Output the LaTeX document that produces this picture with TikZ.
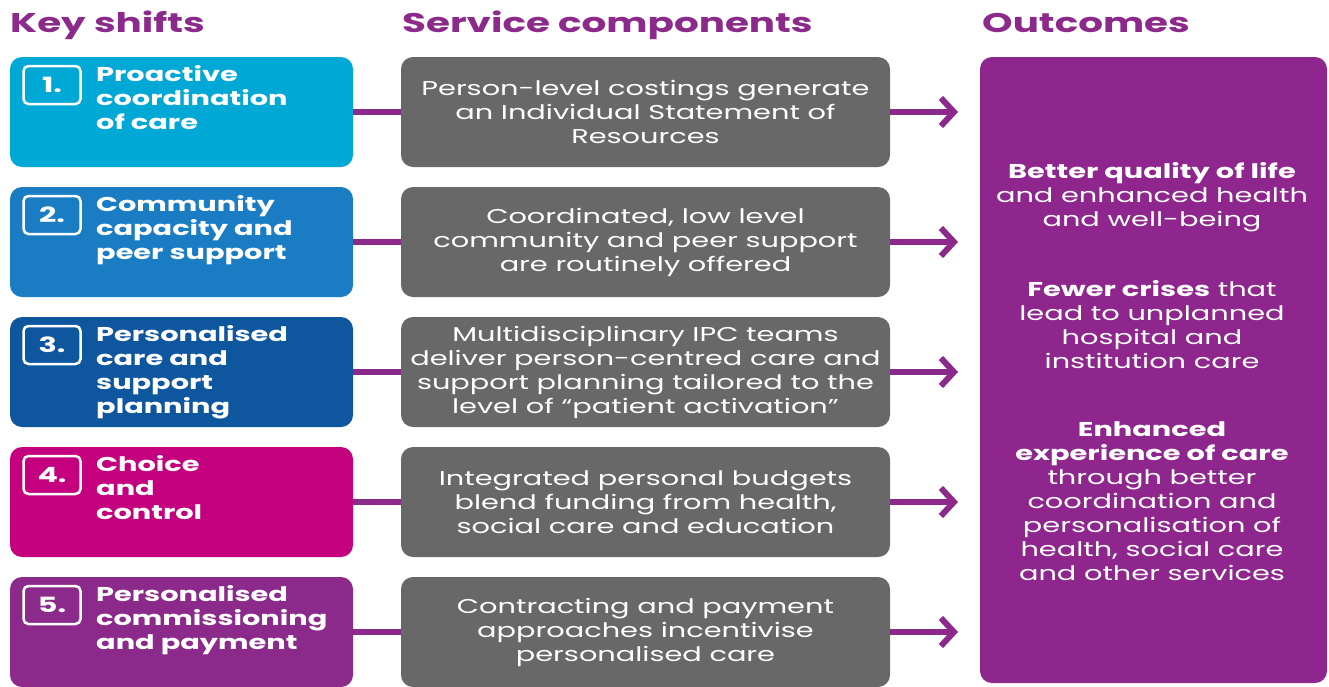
\documentclass[tikz,border=0pt]{standalone}
\usepackage{fontspec}
\setmainfont{Poppins}[FakeStretch=1.44]
\usetikzlibrary{arrows.meta,positioning}

\definecolor{shiftA}{HTML}{00A8D6}
\definecolor{shiftB}{HTML}{1A7DC4}
\definecolor{shiftC}{HTML}{0E569E}
\definecolor{shiftD}{HTML}{C4007E}
\definecolor{shiftE}{HTML}{8B2A8B}
\definecolor{servgray}{HTML}{686868}
\definecolor{outpurple}{HTML}{8E268E}
\definecolor{headpurple}{HTML}{8B2A8B}

\tikzset{
	shiftbox/.style={fill=#1, rounded corners=12pt, minimum width=343pt, minimum height=110pt, inner sep=0pt},
	servbox/.style={fill=servgray, rounded corners=12pt, minimum width=489pt, minimum height=110pt, inner sep=0pt,
		text=white, align=center, font=\fontsize{20}{24}\selectfont},
	numbox/.style={draw=white, line width=2.5pt, rounded corners=5pt, minimum width=57pt, minimum height=38pt,
		inner sep=0pt, text=white, font=\fontsize{21}{24}\selectfont\bfseries},
	shifttext/.style={text=white, align=left, inner sep=0pt, anchor=north west, font=\fontsize{20}{24}\selectfont\bfseries},
	heading/.style={text=headpurple, anchor=base west, inner sep=0pt, font=\fontsize{27}{30}\selectfont\bfseries},
	outtext/.style={text=white, align=center, inner sep=0pt, font=\fontsize{20}{24}\selectfont},
	joinline/.style={draw=headpurple, line width=6pt},
	flowarrow/.style={draw=headpurple, line width=6pt, -{Straight Barb[length=13pt,width=28pt]}}
}

\begin{document}
\begin{tikzpicture}[x=1pt, y=-1pt]
	\useasboundingbox (0,0) rectangle (1329,686);

	% headings
	\node[heading] (hshift) at (10, 32) {Key shifts};
	\node[heading] (hserv) at (402, 32) {Service components};
	\node[heading] (hout) at (982, 32) {Outcomes};

	% key shifts
	\node[shiftbox=shiftA] (s1) at (181.5, 112) {};
	\node[shiftbox=shiftB] (s2) at (181.5, 242) {};
	\node[shiftbox=shiftC] (s3) at (181.5, 372) {};
	\node[shiftbox=shiftD] (s4) at (181.5, 502) {};
	\node[shiftbox=shiftE] (s5) at (181.5, 632) {};

	\node[numbox] (n1) at (52, 85) {1.};
	\node[numbox] (n2) at (52, 215) {2.};
	\node[numbox] (n3) at (52, 345) {3.};
	\node[numbox] (n4) at (52, 475) {4.};
	\node[numbox] (n5) at (52, 605) {5.};

	\node[shifttext] (t1) at (96, 65) {Proactive\\coordination\\of care};
	\node[shifttext] (t2) at (96, 195) {Community\\capacity and\\peer support};
	\node[shifttext] (t3) at (96, 325) {Personalised\\care and\\support\\planning};
	\node[shifttext] (t4) at (96, 455) {Choice\\and\\control};
	\node[shifttext] (t5) at (96, 585) {Personalised\\commissioning\\and payment};

	% service components
	\node[servbox] (c1) at (645.5, 112) {Person-level costings generate\\an Individual Statement of\\Resources};
	\node[servbox] (c2) at (645.5, 242) {Coordinated, low level\\community and peer support\\are routinely offered};
	\node[servbox] (c3) at (645.5, 372) {Multidisciplinary IPC teams\\deliver person-centred care and\\support planning tailored to the\\level of “patient activation”};
	\node[servbox] (c4) at (645.5, 502) {Integrated personal budgets\\blend funding from health,\\social care and education};
	\node[servbox] (c5) at (645.5, 632) {Contracting and payment\\approaches incentivise\\personalised care};

	% outcomes
	\node[fill=outpurple, rounded corners=12pt, minimum width=347pt, minimum height=626pt, inner sep=0pt] (out) at (1153.5, 370) {};
	\node[outtext] (o1) at (1152, 197) {\textbf{Better quality of life}\\and enhanced health\\and well-being};
	\node[outtext] (o2) at (1152, 325) {\textbf{Fewer crises} that\\lead to unplanned\\hospital and\\institution care};
	\node[outtext] (o3) at (1152, 501) {\textbf{Enhanced}\\\textbf{experience of care}\\through better\\coordination and\\personalisation of\\health, social care\\and other services};

	% arrow ends
	\coordinate (e1) at (958, 112);
	\coordinate (e2) at (958, 242);
	\coordinate (e3) at (958, 372);
	\coordinate (e4) at (958, 502);
	\coordinate (e5) at (958, 632);

	\path[joinline] (s1) -- (c1);
	\path[joinline] (s2) -- (c2);
	\path[joinline] (s3) -- (c3);
	\path[joinline] (s4) -- (c4);
	\path[joinline] (s5) -- (c5);

	\path[flowarrow] (c1) -- (e1);
	\path[flowarrow] (c2) -- (e2);
	\path[flowarrow] (c3) -- (e3);
	\path[flowarrow] (c4) -- (e4);
	\path[flowarrow] (c5) -- (e5);
\end{tikzpicture}
\end{document}
